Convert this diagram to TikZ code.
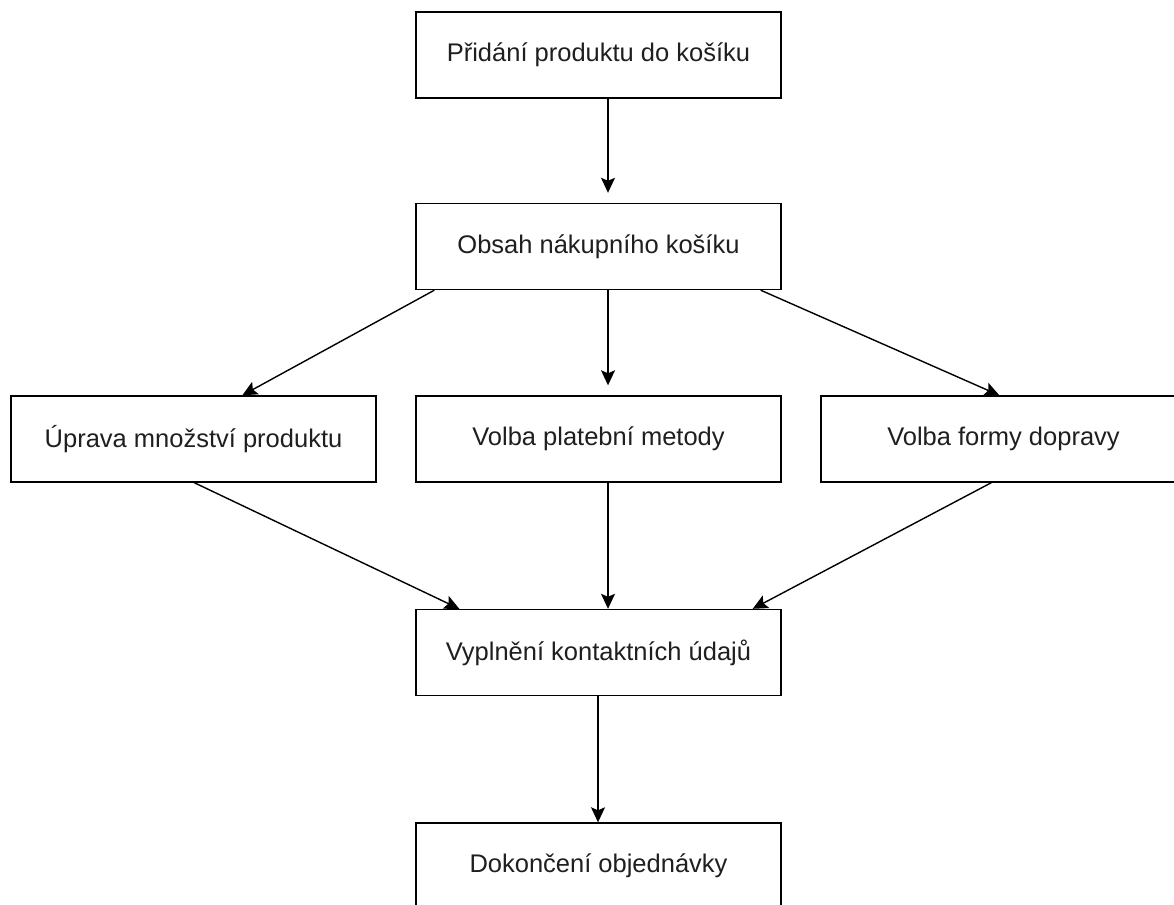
\documentclass[tikz,border=0pt]{standalone}
\usepackage{fontspec}
\setmainfont{Liberation Sans}
\usetikzlibrary{arrows.meta,calc}

\tikzset{
  box/.style={draw=black, line width=1.4pt, fill=white,
    minimum width=365pt, minimum height=86pt, inner sep=0pt,
    font=\fontsize{25.5}{30}\selectfont, text=black!88},
  flow/.style={draw=black, line width=1.4pt,
    -{Stealth[length=15pt,width=14pt,inset=3pt]}}
}

\begin{document}
\begin{tikzpicture}[x=1pt,y=-1pt]
  \useasboundingbox (0,0) rectangle (1174,904);
  \clip (0,0) rectangle (1174,904);
  \fill[white] (0,0) rectangle (1174,904);

  % process steps
  \node[box] (add)     at (598.5,55)    {Přidání produktu do košíku};
  \node[box] (cart)    at (598.5,246.5) {Obsah nákupního košíku};
  \node[box] (qty)     at (193.5,439)   {Úprava množství produktu};
  \node[box] (pay)     at (598.5,439)   {Volba platební metody};
  \node[box] (ship)    at (1003.5,439)  {Volba formy dopravy};
  \node[box] (contact) at (598.5,652.5) {Vyplnění kontaktních údajů};
  \node[box] (finish)  at (598.5,866)   {Dokončení objednávky};

  % connectors
  \draw[flow] ($(add.south)+(9.5,0)$) -- ($(cart.north)+(9.5,-10)$);
  \draw[flow] ($(cart.south west)+(19,0)$) -- ($(qty.north west)+(232,0)$);
  \draw[flow] ($(cart.south)+(9.5,0)$) -- ($(pay.north)+(9.5,-10)$);
  \draw[flow] ($(cart.south east)+(-21,0)$) -- ($(ship.north west)+(179,0)$);
  \draw[flow] ($(qty.south west)+(184,0)$) -- ($(contact.north west)+(44,0)$);
  \draw[flow] ($(pay.south)+(9.5,0)$) -- ($(contact.north)+(9.5,0)$);
  \draw[flow] ($(ship.south west)+(171,0)$) -- ($(contact.north east)+(-29,0)$);
  \draw[flow] ($(contact.south)+(-0.5,0)$) -- ($(finish.north)+(-0.5,0)$);
\end{tikzpicture}
\end{document}
